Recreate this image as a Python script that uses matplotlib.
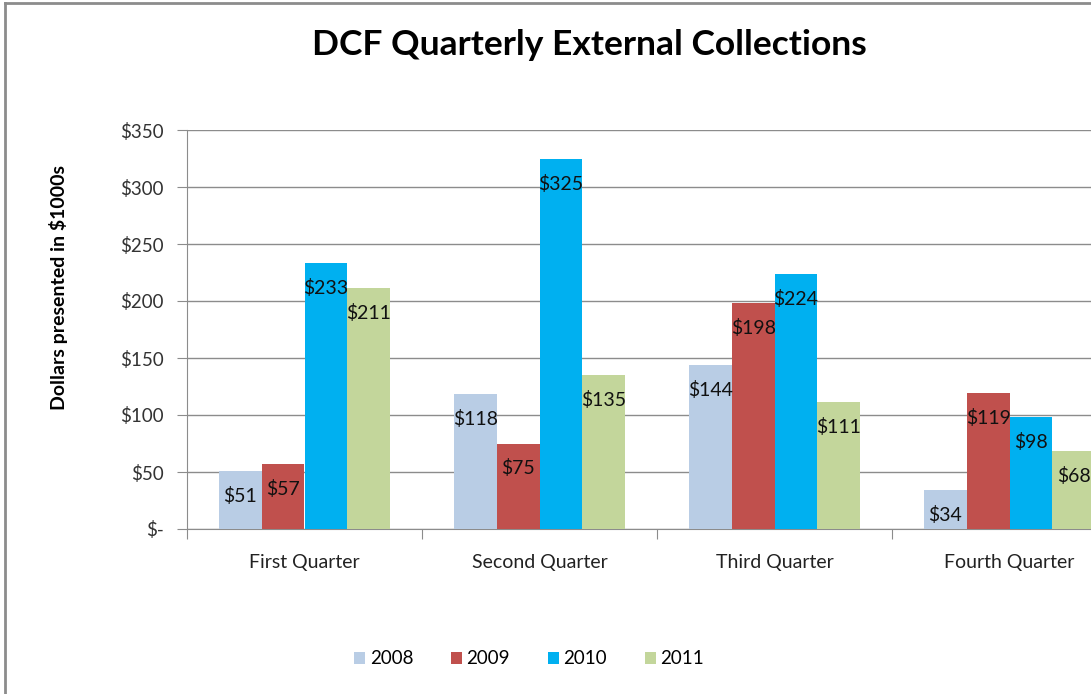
import matplotlib.pyplot as plt
import numpy as np
from matplotlib.lines import Line2D

quarters = ["First Quarter", "Second Quarter", "Third Quarter", "Fourth Quarter"]
years = ["2008", "2009", "2010", "2011"]
v2008 = [51, 118, 144, 34]
v2009 = [57, 75, 198, 119]
v2010 = [233, 325, 224, 98]
v2011 = [211, 135, 111, 68]
colors = ["#B9CDE5", "#C0504D", "#00B0F0", "#C3D69B"]

plt.rcParams['font.family'] = ['Lato', 'DejaVu Sans']

W, H = 1091, 694
fig = plt.figure(figsize=(W / 100, H / 100), dpi=100)

# outer chart border (left and top only visible, chart is cropped)
fig.add_artist(Line2D([5 / W, 5 / W], [0, 1 - 3 / H], transform=fig.transFigure,
                      color="#8c8c8c", lw=2))
fig.add_artist(Line2D([5 / W, 1], [1 - 3 / H, 1 - 3 / H], transform=fig.transFigure,
                      color="#8c8c8c", lw=2))

# plot area extends past the right edge of the picture
ax = fig.add_axes([187 / W, (H - 529) / H, 940 / W, 399 / H])
ax.set_xlim(0, 4)
ax.set_ylim(0, 350)

bw = 1 / 5.5
x = np.arange(4) + 0.5
series = [v2008, v2009, v2010, v2011]
for i, vals in enumerate(series):
    xs = x + (i - 1.5) * bw
    ax.bar(xs, vals, width=bw, color=colors[i], zorder=3, label=years[i])
    for xi, v in zip(xs, vals):
        ax.annotate(f"${v}", (xi, v), xytext=(0, -18), textcoords="offset points",
                    ha="center", va="center", fontsize=14, color="#111111", zorder=4)

ax.set_yticks(range(0, 351, 50))
ax.set_yticklabels(["$-"] + [f"${t}" for t in range(50, 351, 50)])
ax.yaxis.grid(True, color="#8c8c8c", lw=1)
ax.set_axisbelow(True)
ax.tick_params(axis="y", length=7, color="#8c8c8c", labelsize=13.5, labelcolor="#333333", pad=10)

ax.set_xticks([0, 1, 2, 3, 4])
ax.set_xticklabels([])
ax.set_xticks(x, minor=True)
ax.set_xticklabels(quarters, minor=True)
ax.tick_params(axis="x", which="major", length=7, color="#8c8c8c", direction="out")
ax.tick_params(axis="x", which="minor", length=0, labelsize=14, labelcolor="#222222", pad=18)

for s in ["top", "right"]:
    ax.spines[s].set_visible(False)
ax.spines["left"].set_color("#8c8c8c")
ax.spines["bottom"].set_color("#8c8c8c")

fig.text(589.5 / W, 1 - 45 / H, "DCF Quarterly External Collections", ha="center", va="center",
         fontsize=25.5, fontweight="bold")
fig.text(58 / W, 1 - 288 / H, "Dollars presented in $1000s", rotation=90, ha="center", va="center",
         fontsize=14, fontweight="bold")

fig.legend(loc="center", bbox_to_anchor=(529 / W, 1 - 659 / H), ncol=4, frameon=False,
           fontsize=13.5, handlelength=0.6, handleheight=0.6, columnspacing=2.0, handletextpad=0.25)

fig.savefig("out.png", dpi=100)
